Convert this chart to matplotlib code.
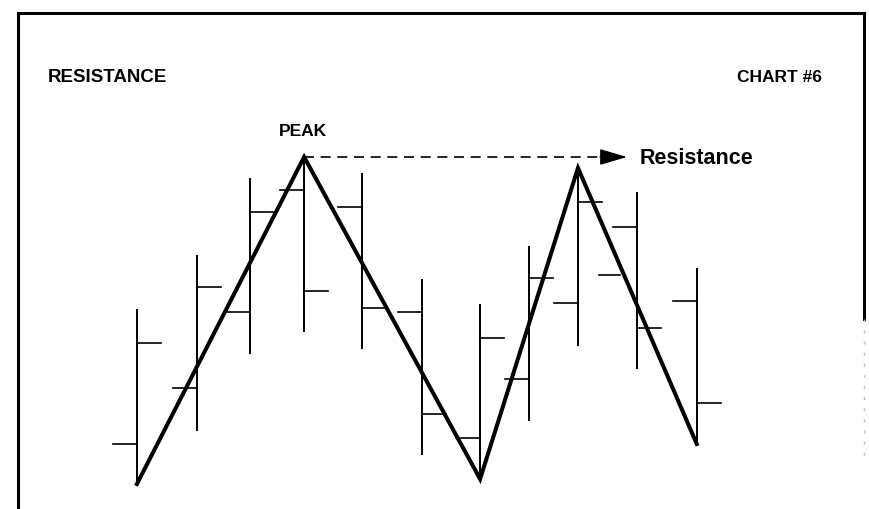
import matplotlib.pyplot as plt
from matplotlib.lines import Line2D

# bar sessions (uneven spacing as drawn) and OHLC prices
sessions = [1.0, 2.09, 3.05, 4.04, 5.09, 6.18, 7.24, 8.13, 9.02, 10.09, 11.18]
opens  = [11.0, 22.2, 37.4, 61.8, 58.4, 37.4, 12.2, 24.0, 39.2, 54.4, 39.6]
highs  = [38.0, 48.8, 64.2, 68.4, 65.2, 44.0, 39.0, 50.6, 66.2, 61.4, 46.2]
lows   = [3.0, 13.6, 29.0, 33.4, 30.0, 8.8, 4.0, 15.6, 30.6, 26.0, 11.0]
closes = [31.2, 42.4, 57.4, 41.6, 38.2, 17.0, 32.2, 44.2, 59.4, 34.2, 19.2]

# stray tick drawn between bars 9 and 10
stray_x = [9.78]
stray_y = [44.8]

# swing points of the zigzag: (bar index, 'low' or 'high')
swings = [(0, "low"), (3, "high"), (6, "low"), (8, "high"), (10, "low")]
peak_bar = 3

plt.rcParams['font.family'] = ['Liberation Sans', 'DejaVu Sans']

fig = plt.figure(figsize=(8.7, 5.1), dpi=100)
ax = fig.add_axes([0, 0, 1, 1])
ax.set_xlim(-1.49, 14.33)
ax.set_ylim(-2, 100)
ax.axis("off")

tick = 0.44
for x, o, h, l, c in zip(sessions, opens, highs, lows, closes):
    ax.plot([x, x], [l, h], color="black", lw=1.4, solid_capstyle="butt")
    ax.plot([x - tick, x], [o, o], color="black", lw=1.2)
    ax.plot([x, x + tick], [c, c], color="black", lw=1.2)

for x, y in zip(stray_x, stray_y):
    ax.plot([x - 0.38, x], [y, y], color="black", lw=1.2)

# zigzag through the swing lows and highs
zx = [sessions[i] for i, kind in swings]
zy = [lows[i] if kind == "low" else highs[i] for i, kind in swings]
ax.plot(zx, zy, color="black", lw=2.9, solid_joinstyle="miter")

# dashed resistance line from the peak with a solid head
peak_x = sessions[peak_bar]
peak_y = highs[peak_bar]
tip_x = 9.91
head_x = 9.47
ax.plot([peak_x, head_x], [peak_y, peak_y], color="black", lw=1.2,
        dashes=(6, 4))
ax.annotate("", xy=(tip_x, peak_y), xytext=(head_x - 0.05, peak_y),
            arrowprops=dict(arrowstyle="-|>,head_length=1.7,head_width=0.5",
                            color="black", lw=1.0, mutation_scale=10,
                            shrinkA=0, shrinkB=0))
ax.annotate("Resistance", xy=(tip_x, peak_y), xytext=(9, 0),
            textcoords="offset points", ha="left", va="center",
            fontsize=15.5, fontweight="bold")
ax.annotate("PEAK", xy=(peak_x, peak_y), xytext=(-1, 14),
            textcoords="offset points", ha="center", va="bottom",
            fontsize=12.5, fontweight="bold")

fig.text(48 / 870, 1 - 78 / 510, "RESISTANCE", ha="left", va="center",
         fontsize=13.5, fontweight="bold")
fig.text(822 / 870, 1 - 77 / 510, "CHART #6", ha="right", va="center",
         fontsize=12.5, fontweight="bold")

# frame around the chart (right edge fades out lower down)
L, R, T = 18 / 870, 864 / 870, 1 - 14 / 510
fig.add_artist(Line2D([L, R], [T, T], color="black", lw=2.2))
fig.add_artist(Line2D([L, L], [T, -0.05], color="black", lw=2.2))
fig.add_artist(Line2D([R, R], [T, 1 - 320 / 510], color="black", lw=2.2))
fig.add_artist(Line2D([R, R], [1 - 320 / 510, 1 - 460 / 510], color="#bbbbbb",
                      lw=1.0, dashes=(2, 6)))

fig.savefig("out.png", dpi=100)
